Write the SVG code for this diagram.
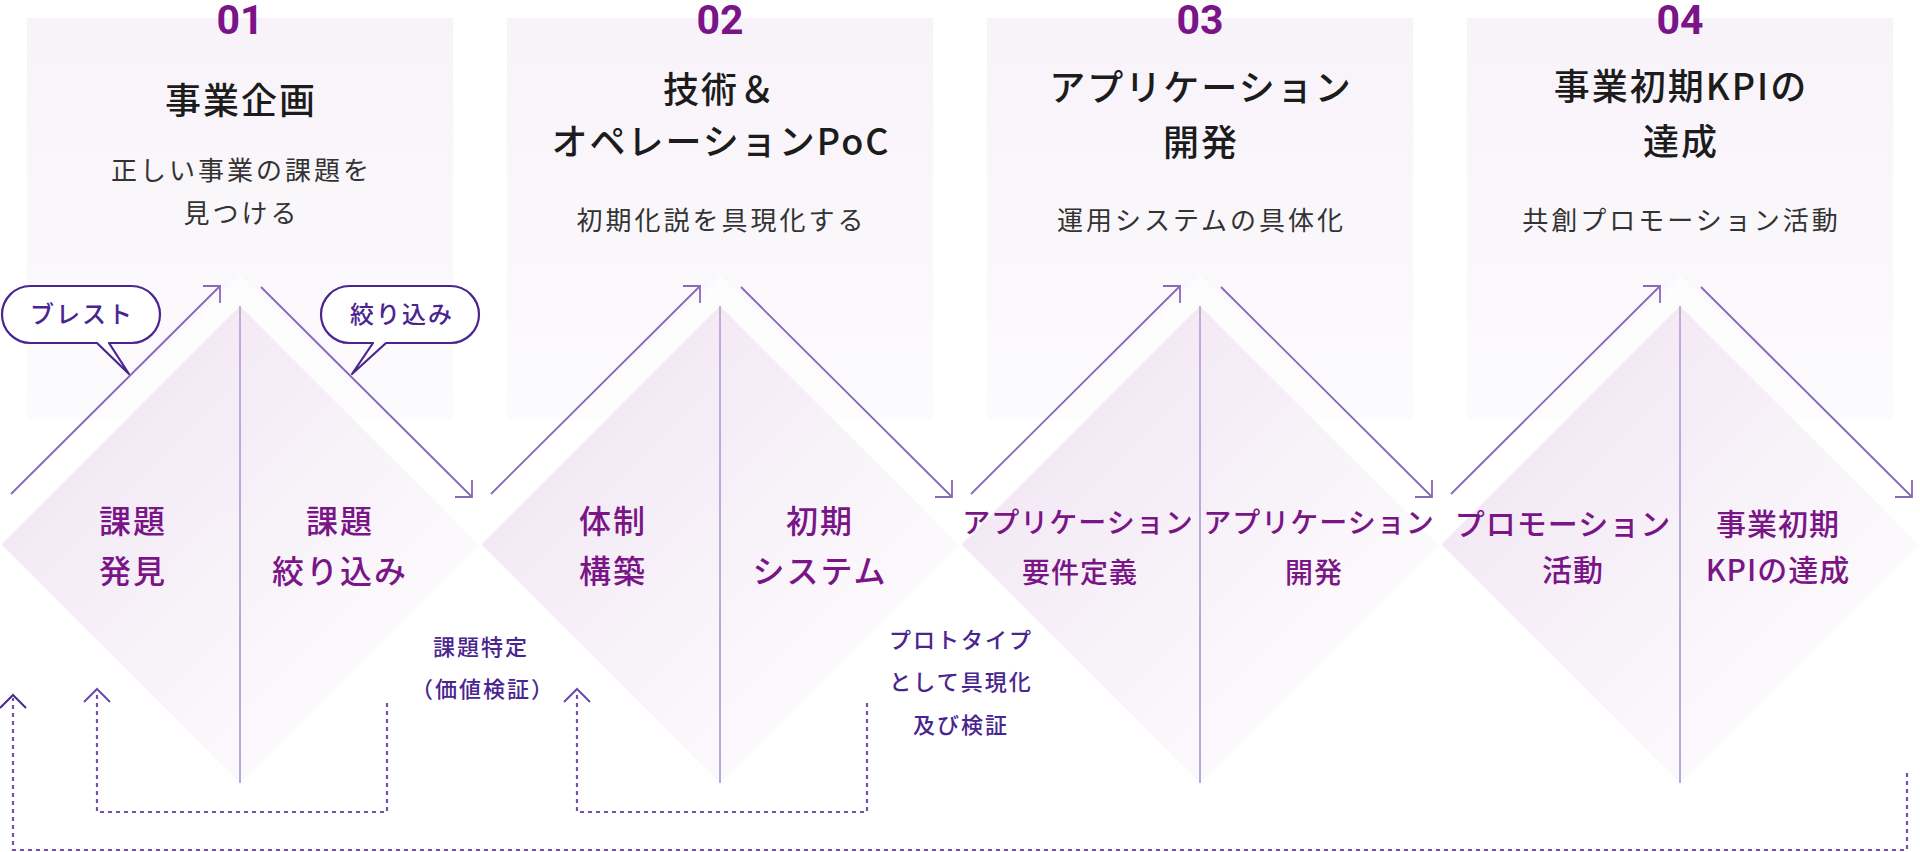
<svg xmlns="http://www.w3.org/2000/svg" xmlns:xlink="http://www.w3.org/1999/xlink" width="1920" height="852" viewBox="0 0 1920 852">
<style>
.num{font-family:Roboto,"Noto Sans",sans-serif;font-weight:700;font-size:41px;fill:#7b1488;text-anchor:middle}
.title{font-family:"Noto Sans CJK JP","Noto Sans",sans-serif;font-weight:500;font-size:36px;fill:#1c1c1c;text-anchor:middle;letter-spacing:2px}
.sub{font-family:"Noto Sans CJK JP","Noto Sans",sans-serif;font-weight:400;font-size:26px;fill:#333;text-anchor:middle;letter-spacing:3px}
.lab{font-family:"Noto Sans CJK JP","Noto Sans",sans-serif;font-weight:500;font-size:32px;fill:#7a1587;text-anchor:middle;letter-spacing:2px}
.lab28{font-size:28px;letter-spacing:1px}
.lab30{font-size:30px;letter-spacing:1px}
.note{font-family:"Noto Sans CJK JP","Noto Sans",sans-serif;font-weight:500;font-size:22px;fill:#4a2590;text-anchor:middle;letter-spacing:2px}
.bub{font-family:"Noto Sans CJK JP","Noto Sans",sans-serif;font-weight:500;font-size:24px;fill:#4a2590;text-anchor:middle;letter-spacing:2px}
.bubble{fill:#fff;stroke:#4a2590;stroke-width:2.2;stroke-linejoin:round}
.arrow{fill:none;stroke:#8868b8;stroke-width:1.8}
.dash{fill:none;stroke:#7650ae;stroke-width:2.2;stroke-dasharray:4 4}
.chev{fill:none;stroke:#6b4aa8;stroke-width:2}
</style>
<defs>
<linearGradient id="panelGrad" x1="0" y1="0" x2="0" y2="1">
<stop offset="0" stop-color="#f8f3f9"/>
<stop offset="1" stop-color="#fcfbfd"/>
</linearGradient>
<linearGradient id="diaGrad" x1="0.2" y1="0.2" x2="0.8" y2="0.8">
<stop offset="0" stop-color="#f2e8f4"/>
<stop offset="1" stop-color="#fdfbfd"/>
</linearGradient>
<linearGradient id="lineGrad" gradientUnits="userSpaceOnUse" x1="0" y1="306" x2="0" y2="783">
<stop offset="0" stop-color="#c9a6d8"/>
<stop offset="1" stop-color="#b0a9e3"/>
</linearGradient>
<clipPath id="panelClip">
<rect x="27" y="18" width="426" height="402"/>
</clipPath>
<g id="stageBase">
<rect x="27" y="18" width="426" height="402" fill="url(#panelGrad)"/>
<polygon points="240,276 508,544.5 240,813 -28,544.5" fill="#fff" opacity="0.6" clip-path="url(#panelClip)"/>
<polygon points="240,306 478.5,544.5 240,783 1.5,544.5" fill="url(#diaGrad)"/>
<line x1="240" y1="306" x2="240" y2="783" stroke="url(#lineGrad)" stroke-width="2"/>
<path class="arrow" d="M11 494 L220 286 M203 286 H220 V303"/>
<path class="arrow" d="M261 287 L472 497 M455 497 H472 V480"/>
</g>
</defs>
<rect width="1920" height="852" fill="#fff"/>

<g id="stage-1">
<use xlink:href="#stageBase" href="#stageBase"/>
<text class="num" x="240" y="34">01</text>
<text class="title" x="241" y="114">事業企画</text>
<text class="sub" x="241.5" y="180">正しい事業の課題を</text>
<text class="sub" x="241.5" y="223">見つける</text>
<text class="lab" x="133" y="533">課題</text>
<text class="lab" x="133" y="583">発見</text>
<text class="lab" x="340" y="533">課題</text>
<text class="lab" x="340" y="583">絞り込み</text>
</g>

<g id="bubble-brainstorm">
<path class="bubble" d="M30.5 286 H131.5 A28.5 28.5 0 0 1 131.5 343 H109 L129 374 L97 343 H30.5 A28.5 28.5 0 0 1 30.5 286 Z"/>
<text class="bub" x="82" y="323">ブレスト</text>
</g>
<g id="bubble-narrow">
<path class="bubble" d="M349.5 286 H450.5 A28.5 28.5 0 0 1 450.5 343 H386 L352 374 L373 343 H349.5 A28.5 28.5 0 0 1 349.5 286 Z"/>
<text class="bub" x="402" y="323">絞り込み</text>
</g>

<g id="stage-2">
<use xlink:href="#stageBase" href="#stageBase" transform="translate(480,0)"/>
<text class="num" x="720" y="34">02</text>
<text class="title" x="720" y="103">技術＆</text>
<text class="title" x="721" y="155">オペレーションPoC</text>
<text class="sub" x="721.5" y="230">初期化説を具現化する</text>
<text class="lab" x="613" y="533">体制</text>
<text class="lab" x="613" y="583">構築</text>
<text class="lab" x="820" y="533">初期</text>
<text class="lab" x="820" y="583">システム</text>
</g>

<g id="stage-3">
<use xlink:href="#stageBase" href="#stageBase" transform="translate(960,0)"/>
<text class="num" x="1200" y="34">03</text>
<text class="title" x="1201" y="101">アプリケーション</text>
<text class="title" x="1201" y="156">開発</text>
<text class="sub" x="1201.5" y="230">運用システムの具体化</text>
<text class="lab lab28" x="1078" y="533">アプリケーション</text>
<text class="lab lab28" x="1080" y="583">要件定義</text>
<text class="lab lab28" x="1319" y="533">アプリケーション</text>
<text class="lab lab28" x="1314" y="583">開発</text>
</g>

<g id="stage-4">
<use xlink:href="#stageBase" href="#stageBase" transform="translate(1440,0)"/>
<text class="num" x="1680" y="34">04</text>
<text class="title" x="1681" y="100">事業初期KPIの</text>
<text class="title" x="1681" y="155">達成</text>
<text class="sub" x="1681.5" y="230">共創プロモーション活動</text>
<text class="lab lab30" x="1563" y="535">プロモーション</text>
<text class="lab lab30" x="1573" y="581">活動</text>
<text class="lab lab30" x="1778" y="535">事業初期</text>
<text class="lab lab30" x="1778" y="581">KPIの達成</text>
</g>

<g id="notes">
<text class="note" x="481" y="655">課題特定</text>
<text class="note" x="483" y="697">（価値検証）</text>
<text class="note" x="961" y="648">プロトタイプ</text>
<text class="note" x="961" y="690">として具現化</text>
<text class="note" x="961" y="733">及び検証</text>
</g>

<g id="connectors">
<path class="dash" d="M387 703 V812 H97 V692"/>
<path class="chev" d="M84 702 L97 689 L110 702"/>
<path class="dash" d="M867 703 V812 H577 V692"/>
<path class="chev" d="M564 702 L577 689 L590 702"/>
<path class="dash" d="M1907 773 V850 H13 V698"/>
<path class="chev" style="stroke:#4a2a90" d="M0 708 L13 695 L26 708"/>
</g>
</svg>
